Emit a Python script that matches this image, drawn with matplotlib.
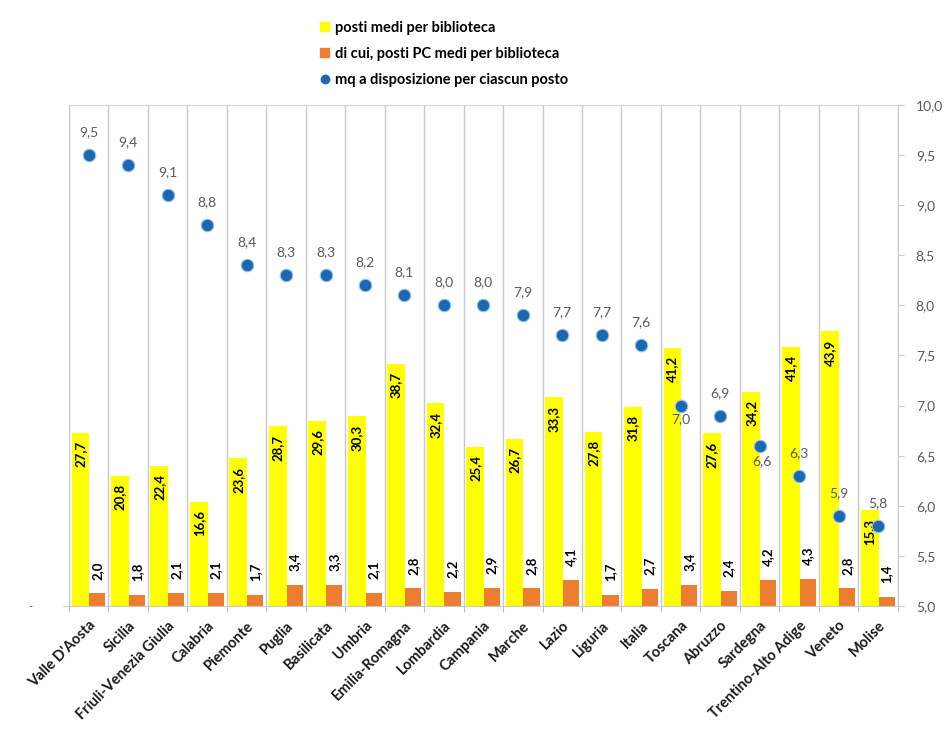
import matplotlib.pyplot as plt
import numpy as np
from matplotlib.lines import Line2D
from matplotlib.patches import Patch

plt.rcParams['font.family'] = ['Lato', 'DejaVu Sans']

regioni = ["Valle D'Aosta", "Sicilia", "Friuli-Venezia Giulia", "Calabria", "Piemonte",
           "Puglia", "Basilicata", "Umbria", "Emilia-Romagna", "Lombardia", "Campania",
           "Marche", "Lazio", "Liguria", "Italia", "Toscana", "Abruzzo", "Sardegna",
           "Trentino-Alto Adige", "Veneto", "Molise"]
posti_medi = [27.7, 20.8, 22.4, 16.6, 23.6, 28.7, 29.6, 30.3, 38.7, 32.4, 25.4,
              26.7, 33.3, 27.8, 31.8, 41.2, 27.6, 34.2, 41.4, 43.9, 15.3]
posti_pc = [2.0, 1.8, 2.1, 2.1, 1.7, 3.4, 3.3, 2.1, 2.8, 2.2, 2.9,
            2.8, 4.1, 1.7, 2.7, 3.4, 2.4, 4.2, 4.3, 2.8, 1.4]
mq_posto = [9.5, 9.4, 9.1, 8.8, 8.4, 8.3, 8.3, 8.2, 8.1, 8.0, 8.0,
            7.9, 7.7, 7.7, 7.6, 7.0, 6.9, 6.6, 6.3, 5.9, 5.8]

GIALLO = '#FFFF00'
ARANCIO = '#ED7D31'
BLU = '#1A68B2'
GRIGIO = '#595959'

def virgola(v):
    return f'{v:.1f}'.replace('.', ',')

fig = plt.figure(figsize=(9.45, 7.42), dpi=100)
ax = fig.add_axes([0.073, 0.1833, 0.877, 0.6752])
ax2 = ax.twinx()

x = np.arange(len(regioni))
w1, w2 = 0.45, 0.41
ax.bar(x - 0.21, posti_medi, w1, color=GIALLO, zorder=2)
ax.bar(x + 0.22, posti_pc, w2, color=ARANCIO, zorder=2)

for xi, v in zip(x, posti_medi):
    ax.annotate(virgola(v), (xi - 0.21, v), xytext=(0, -6), textcoords='offset points',
                rotation=90, ha='center', va='top', fontsize=9.5, fontweight='bold', color='black')
for xi, v in zip(x, posti_pc):
    ax.annotate(virgola(v), (xi + 0.22, v), xytext=(0, 10), textcoords='offset points',
                rotation=90, ha='center', va='bottom', fontsize=9.5, fontweight='bold', color='black')

ax.set_xlim(-0.5, len(regioni) - 0.5)
ax.set_ylim(0, 80)
ax.set_xticks(x)
ax.set_xticklabels(regioni, rotation=45, ha='right', rotation_mode='anchor',
                   fontsize=10.5, fontweight='bold', color='#1a1a1a')
ax.tick_params(axis='x', which='major', length=0, pad=9)
ax.set_xticks(np.arange(-0.5, len(regioni)), minor=True)
ax.tick_params(axis='x', which='minor', length=4, color='#A9A9C9')
ax.grid(axis='x', which='minor', color='#C8C8C8', linewidth=1, zorder=0)
ax.set_yticks([0])
ax.set_yticklabels(['-'], fontsize=8, color=GRIGIO)
ax.tick_params(axis='y', length=4, color='#C8C8C8', pad=22)

for s in ['left', 'bottom']:
    ax.spines[s].set_color('#C8C8C8')
ax.spines['top'].set_color('#CDD6E6')
ax.spines['right'].set_visible(False)

# punti sull'asse secondario
ax2.plot(x, mq_posto, 'o', color=BLU, markersize=9, markeredgecolor='#9CC3E8',
         markeredgewidth=0.8, zorder=5)
ax2.set_ylim(5, 10)
ax2.set_yticks(np.arange(5, 10.01, 0.5))
ax2.set_yticklabels([virgola(v) for v in np.arange(5, 10.01, 0.5)], fontsize=10, color=GRIGIO)
ax2.tick_params(axis='y', length=4, color='#C8C8C8', pad=9)
ax2.spines['right'].set_color('#C8C8C8')
for s in ['left', 'top', 'bottom']:
    ax2.spines[s].set_visible(False)

sotto = {'Toscana': (0, -10), 'Sardegna': (2, -11)}
for xi, r, v in zip(x, regioni, mq_posto):
    off = sotto.get(r, (0, 16.5))
    ax2.annotate(virgola(v), (xi, v), xytext=off, textcoords='offset points',
                 ha='center', va='center', fontsize=10, color=GRIGIO, zorder=6)

handles = [Patch(color=GIALLO), Patch(color=ARANCIO),
           Line2D([], [], marker='o', linestyle='none', color=BLU, markersize=6)]
labels = ['posti medi per biblioteca', 'di cui, posti PC medi per biblioteca',
          'mq a disposizione per ciascun posto']
fig.legend(handles, labels, loc='upper left', bbox_to_anchor=(0.325, 0.99), frameon=False,
           handlelength=0.6, handleheight=0.6, handletextpad=0.4, labelspacing=0.85,
           prop={'weight': 'bold', 'size': 10.5})

fig.savefig('out.png', dpi=100, facecolor='white')
